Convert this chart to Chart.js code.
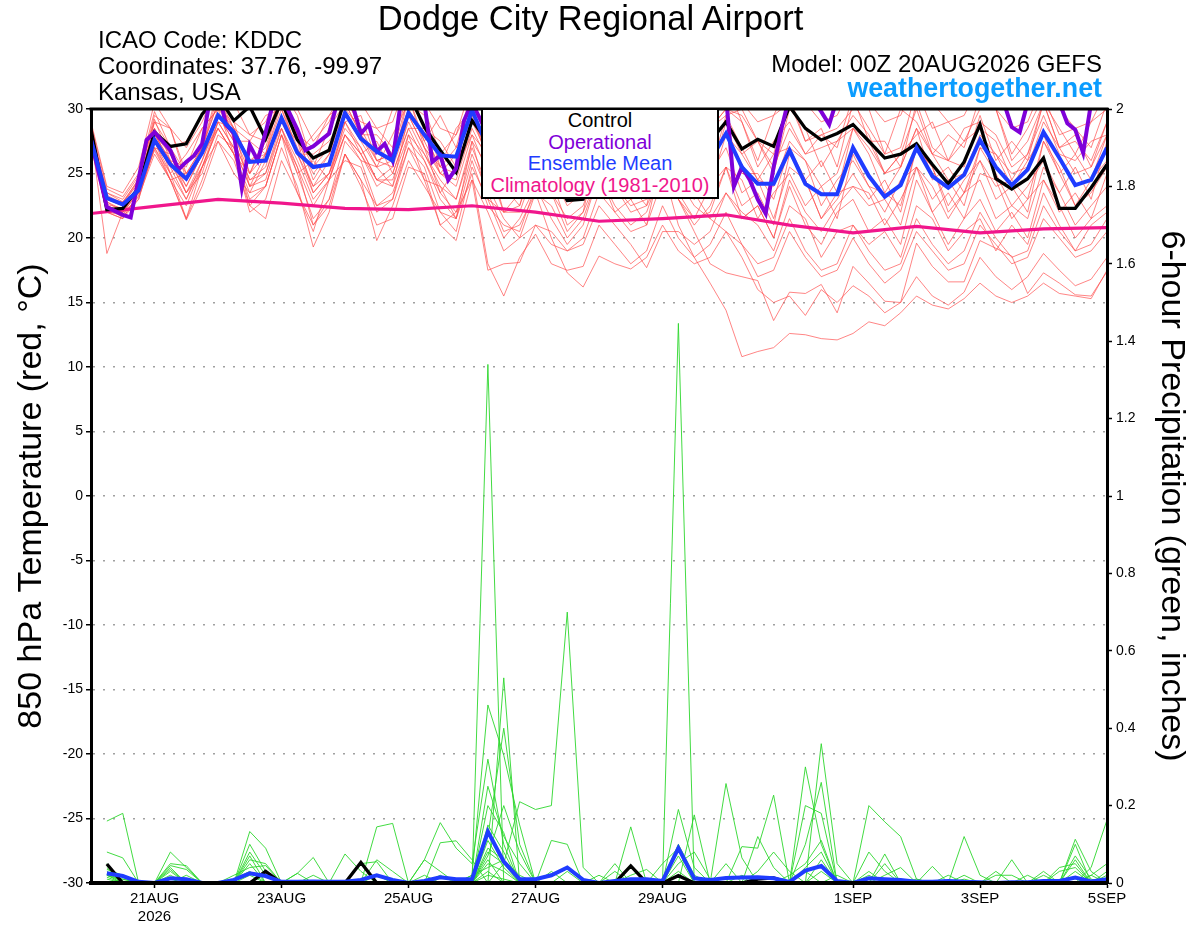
<!DOCTYPE html>
<html>
<head>
<meta charset="utf-8">
<title>Dodge City Regional Airport - GEFS</title>
<script src="https://cdn.jsdelivr.net/npm/chart.js@4.4.1/dist/chart.umd.min.js"></script>
<style>
  body { margin: 0; background: #fff; }
  #page { position: relative; width: 1200px; height: 927px; overflow: hidden; font-family: "Liberation Sans", Arial, sans-serif; }
  #chart { position: absolute; left: 0; top: 0; }
  .txt { position: absolute; white-space: nowrap; line-height: 1; color: #000; }
  #title { font-size: 34.5px; left: 0; width: 1181px; text-align: center; top: 1px; }
  #icao { font-size: 24px; left: 98px; top: 28px; }
  #coords { font-size: 24px; left: 98px; top: 54px; }
  #state { font-size: 24px; left: 98px; top: 80px; }
  #model { font-size: 24px; right: 98px; top: 52px; }
  #site { font-size: 26.8px; font-weight: bold; color: #0a9cff; right: 98px; top: 75px; }
  #legend { position: absolute; left: 481px; top: 108px; width: 238px; height: 91px; box-sizing: border-box;
            border: 2px solid #000; background: #fff; text-align: center; font-size: 20px; line-height: 21.7px; }
</style>
</head>
<body>
<div id="page">
  <canvas id="chart" width="1200" height="927"></canvas>
  <div class="txt" id="title">Dodge City Regional Airport</div>
  <div class="txt" id="icao">ICAO Code: KDDC</div>
  <div class="txt" id="coords">Coordinates: 37.76, -99.97</div>
  <div class="txt" id="state">Kansas, USA</div>
  <div class="txt" id="model">Model: 00Z 20AUG2026 GEFS</div>
  <div class="txt" id="site">weathertogether.net</div>
  <div id="legend">
    <div style="color:#000">Control</div>
    <div style="color:#7f00d9">Operational</div>
    <div style="color:#1f3cff">Ensemble Mean</div>
    <div style="color:#f0168c">Climatology (1981-2010)</div>
  </div>
</div>
<script>
// TIME AXIS (hours after 00Z 20AUG2026, one value every 6 h)
const stepHours = 6;
const tickHours = [24, 72, 120, 168, 216, 288, 336, 384];
const tickLabels = [["21AUG", "2026"], "23AUG", "25AUG", "27AUG", "29AUG", "1SEP", "3SEP", "5SEP"];

// 850 hPa TEMPERATURE, deg C
const controlTemp = [28.4,22.2,22.3,23.9,28.2, 27.1,27.3,29.6,31.0, 29.1,30.2,27.7,30.6, 27.6,26.2,26.8,30.8,
  30.8,30.4,30.1,31.2, 28.6,26.8,25.1,29.1, 27.5,25.0,24.5,27.5, 25.0,22.9,23.0,27.0, 25.5,24.8,26.0,29.5,
  27.0,26.0,27.5,29.0, 26.9,27.65,27.1,30.2, 28.5,27.6,28.1,28.8, 27.5,26.2,26.5,27.3, 25.7,24.2,25.9,28.8,
  24.6,23.8,24.6,26.2, 22.3,22.3,23.9,25.7];
const meanTemp = [27.6,23.1,22.6,23.7,27.6, 25.7,24.6,26.6,29.5, 28.2,25.9,26.0,29.3, 26.6,25.5,25.7,29.7,
  27.7,26.7,26.0,29.7, 28.0,26.4,26.3,29.9, 27.0,25.0,25.2,28.0, 26.0,24.8,25.0,27.8, 26.0,25.3,26.0,28.8,
  26.6,25.5,26.0,28.1, 25.5,24.2,24.2,26.8, 24.2,23.4,23.4,27.0, 24.8,23.2,24.1,27.0, 24.8,23.9,24.9,27.6,
  25.5,24.1,25.3,28.2, 26.2,24.1,24.5,27.0];
// operational run has 3-hourly output
const opHours = [0,6,12,15,21,24,30,33,36,39,42,45,48,51,54,57,60,63,66,69,72,78,81,84,90,93,96,99,102,105,108,111,114,117,120,
  126,129,132,135,138,141,144,150,156,162,168,174,180,186,192,198,204,210,216,222,228,234,240,243,246,249,252,255,258,261,264,
  270,276,279,282,288,300,312,324,336,342,345,348,351,354,360,366,369,372,375,378,384];
const opTemp = [27.6,22.4,21.8,21.6,27.6,28.2,26.8,25.3,25.9,26.4,27.3,30.8,31.5,28.8,28.1,23.9,27.2,26.0,28.2,30.6,31.0,28.4,26.8,27.1,28.1,30.5,31.5,30.2,28.1,28.8,26.7,27.3,26.0,30.4,31.5,
  30.5,25.9,26.4,24.5,25.4,29.1,30.5,28,26,29,31,27,25,28,31,27,26,29,31,28,27,30,31,24.0,25.5,24.5,23.0,21.9,25.5,28.5,31.0,
  31.5,29.8,28.8,30.8,31.5,32,31.5,32,31.5,31,30.5,28.6,28.2,30.5,31.5,30.5,28.9,28.4,26.6,30.5,31.5];
// climatology, one value per day
const climHours = [0,24,48,72,96,120,144,168,192,216,240,264,288,312,336,360,384];
const climTemp = [21.9,22.45,23.0,22.7,22.3,22.2,22.5,22.0,21.3,21.5,21.8,21.0,20.4,20.9,20.4,20.7,20.8];

// ensemble members
const m01 = [28.6,23.0,22.8,24.5,29.5, 28.5,25.0,27.0,31.5, 27.5,27.5,29.5,30.0, 26.5,28.0,29.5,31.5, 28.0,26.5,30.0,31.0, 27.5,29.5,27.0,31.5,
  29.0,26.0,28.5,29.5, 27.0,28.5,26.5,31.0, 30.5,26.5,28.5,30.0, 27.0,29.5,27.5,32.0, 29.0,26.0,29.5,30.5, 27.5,28.5,25.5,30.5,
  28.5,26.5,30.0,29.0, 26.5,28.0,27.0,31.0, 30.0,26.0,27.5,30.5, 28.5,26.5,29.0,30.0];
const m02 = [28.0,22.5,22.0,24.0,28.5, 25.0,26.5,28.5,30.0, 26.5,25.0,28.0,30.8, 28.0,24.5,26.5,29.0, 29.5,26.0,25.5,31.0, 27.0,25.5,28.5,30.0,
  26.0,27.5,25.0,29.5, 28.5,25.0,27.0,28.0, 26.0,28.0,26.5,30.5, 28.0,25.5,28.5,29.5, 30.0,27.5,25.5,28.5, 26.5,28.0,27.0,31.0,
  27.5,25.0,26.5,28.0, 29.0,26.0,25.5,29.5, 26.0,27.5,26.0,30.5, 27.0,28.0,25.5,29.0];
const m03 = [27.2,23.2,22.5,23.5,27.0, 26.5,23.5,25.0,29.0, 28.5,24.0,26.5,28.5, 25.0,26.0,24.5,29.0, 26.5,27.5,25.0,28.5, 28.5,25.0,26.5,29.5,
  26.0,24.5,27.0,27.5, 25.0,26.5,24.0,28.5, 27.0,24.0,26.5,28.0, 25.5,27.0,25.0,29.5, 27.0,24.5,26.5,27.0, 24.5,26.0,23.5,28.5,
  26.5,23.5,25.5,28.5, 24.5,25.5,23.5,27.0, 26.5,24.0,26.0,28.0, 25.0,26.5,24.5,28.0];
const m04 = [27.8,22.0,21.8,23.2,26.5, 24.5,21.5,25.5,27.5, 25.0,23.5,24.0,28.0, 23.5,20.5,24.5,26.0, 25.5,22.0,23.0,28.0, 24.5,24.0,21.5,27.5,
  23.0,22.0,23.5,25.0, 24.5,21.0,22.0,27.5, 24.5,24.0,22.5,28.0, 26.5,23.0,24.5,29.0, 25.0,25.0,23.0,27.0, 26.0,22.5,24.5,26.0,
  24.0,23.5,22.5,27.0, 25.5,22.0,23.5,26.0, 24.0,24.5,23.0,27.5, 25.5,22.5,24.5,26.0];
const m05 = [28.0,18.8,22.0,23.0,27.0, 25.0,21.5,24.5,28.0, 27.0,22.5,24.0,28.0, 25.5,21.0,23.0,26.5, 24.5,19.8,22.5,26.0, 24.0,22.0,20.5,25.5,
  23.0,20.0,21.5,24.0, 21.5,19.5,21.0,25.0, 22.5,21.0,22.0,25.5, 23.0,21.0,22.5,25.5, 21.5,22.5,20.0,24.0, 21.0,19.5,22.0,23.0,
  20.5,21.5,19.5,24.5, 22.0,19.5,21.5,23.0, 20.5,22.0,20.0,24.5, 22.5,20.0,21.5,22.5];
const m06 = [27.5,22.5,21.8,23.8,27.5, 25.5,23.0,26.0,29.0, 27.0,24.0,25.0,28.5, 25.5,22.5,24.5,28.0, 26.5,24.0,25.0,28.5, 26.0,23.0,21.5,25.0,
  18.0,15.5,18.5,20.3, 18.0,17.5,17.8,21.0, 19.5,18.0,19.0,22.5, 20.0,18.5,19.5,22.0, 19.5,18.0,18.5,21.5, 19.0,17.5,18.0,21.0,
  19.0,17.5,18.0,21.5, 19.5,18.0,19.0,22.0, 20.0,18.5,19.0,22.5, 20.5,19.0,19.5,21.5];
const m07 = [28.2,23.5,22.8,24.2,28.0, 26.0,23.5,25.5,28.5, 26.5,23.0,24.0,28.0, 25.0,21.5,23.0,27.5, 26.0,22.5,23.5,27.0, 24.5,21.0,22.0,26.5,
  23.5,20.5,21.0,23.5, 20.0,17.3,16.2,18.6, 18.0,17.6,18.5,21.0, 19.0,18.0,18.5,20.5, 19.5,17.0,17.5,20.5, 18.5,17.0,17.5,20.0,
  18.0,16.5,17.5,20.5, 19.0,17.5,18.0,21.0, 19.5,18.0,18.5,21.5, 20.0,18.5,19.0,20.5];
const m08 = [28.5,22.8,22.2,24.0,28.0, 26.5,24.5,27.0,30.5, 28.0,25.0,26.5,30.0, 27.0,24.0,26.0,29.5, 27.5,25.5,26.0,29.5, 27.0,25.0,24.5,28.5,
  26.0,23.5,24.0,27.5, 25.0,22.5,23.5,27.0, 25.5,23.0,23.5,25.5, 21.0,18.5,16.5,14.4, 10.8,11.2,11.5,12.6, 12.5,12.2,12.1,12.6,
  13.5,13.2,14.2,15.5, 14.8,14.5,15.3,16.5, 15.5,15.0,15.5,16.5, 15.7,15.5,15.3,17.5];
const m09 = [28.0,22.5,22.0,23.5,27.5, 25.0,23.0,25.5,29.0, 27.0,24.0,24.5,28.5, 26.0,23.0,24.5,28.0, 26.5,24.5,24.5,28.0, 26.5,24.5,23.0,27.5,
  25.5,22.0,22.0,25.5, 23.5,21.5,22.5,26.0, 24.0,22.0,22.5,25.0, 23.0,20.5,18.0,17.3, 17.0,16.7,13.6,15.8, 15.7,16.4,14.2,17.8,
  16.5,15.1,15.0,19.6, 17.8,16.6,16.6,19.8, 19.2,18.6,15.7,17.3, 16.5,15.6,15.5,17.4];
const m10 = [27.8,23.0,22.5,24.5,28.5, 26.5,24.0,26.5,30.0, 28.5,26.0,26.5,30.5, 27.5,25.0,26.5,30.0, 28.5,26.0,26.5,30.0, 28.0,25.5,25.0,29.0,
  26.5,23.5,24.0,27.5, 25.5,23.0,23.5,27.5, 26.0,24.0,24.5,27.5, 25.5,23.5,21.5,20.5, 18.5,16.0,15.0,15.5, 14.0,16.0,15.0,16.3,
  15.5,14.2,15.0,17.0, 15.5,14.8,15.8,18.5, 17.0,16.0,17.0,18.8, 17.5,16.3,16.8,18.5];
const m11 = [28.3,23.5,23.0,24.8,29.0, 27.0,25.0,27.0,30.5, 28.5,26.0,27.0,31.0, 28.0,25.5,27.0,30.5, 28.0,26.0,26.5,30.0, 27.5,25.0,24.0,28.0,
  26.5,22.0,22.5,26.0, 25.0,23.0,23.5,27.0, 25.0,23.0,23.5,26.5, 24.5,22.5,21.5,23.5, 22.0,21.0,19.0,22.5, 21.5,18.5,20.5,21.0,
  19.5,20.5,18.5,22.5, 21.5,19.0,20.5,21.5, 19.0,21.0,19.5,23.5, 21.0,19.0,21.0,22.0];
const m12 = [27.5,22.0,21.5,23.0,27.5, 24.5,25.0,26.5,28.5, 26.5,23.5,26.0,29.0, 27.5,23.5,25.0,28.0, 26.0,25.5,24.0,29.5, 27.0,23.5,25.5,28.0,
  25.0,24.0,22.5,27.0, 26.5,24.0,26.0,27.0, 24.5,25.5,24.0,28.5, 26.5,23.0,25.0,27.0, 23.5,24.5,21.5,25.5, 24.5,21.5,23.5,24.0,
  22.5,23.0,21.0,25.5, 24.0,21.5,23.5,24.5, 21.5,22.5,21.5,25.5, 23.5,21.0,22.5,24.0];
const m13 = [28.8,23.8,23.2,25.0,29.8, 27.0,27.5,29.5,31.0, 29.0,28.0,27.5,31.5, 28.0,27.0,29.5,30.5, 29.0,28.5,27.0,31.5, 30.0,26.5,28.0,30.5,
  28.0,26.5,27.5,30.0, 28.5,25.5,27.5,29.5, 29.0,27.5,26.0,30.5, 27.5,28.0,28.5,30.0, 29.0,25.5,27.5,29.0, 26.5,27.0,27.5,29.5,
  28.0,25.0,26.5,30.0, 26.5,26.0,27.5,28.5, 27.5,24.5,26.5,29.5, 26.5,26.0,27.5,28.0];
const m14 = [27.0,22.0,21.5,23.5,26.8, 24.5,22.5,25.5,28.5, 26.5,22.0,23.0,27.0, 24.0,19.3,22.0,26.5, 24.0,21.0,21.5,25.5, 25.0,21.0,19.8,24.5,
  22.0,19.0,20.0,23.5, 22.5,20.0,21.5,25.0, 24.0,22.5,23.0,27.0, 25.5,23.5,24.0,28.0, 26.5,24.5,24.0,27.5, 26.0,24.0,25.0,28.5,
  27.0,25.0,25.5,28.5, 26.5,24.5,25.0,28.0, 26.5,25.0,25.5,29.0, 27.0,25.0,25.5,28.0];
const m15 = [28.0,23.0,22.5,24.0,29.0, 28.5,24.5,27.0,31.0, 28.5,27.5,26.5,31.5, 29.5,25.5,28.5,30.5, 28.0,28.0,26.5,31.0, 28.5,27.5,25.5,30.5,
  30.0,26.0,26.5,31.0, 27.5,28.0,28.5,30.5, 28.5,27.0,29.5,31.5, 28.5,26.5,28.5,30.0, 29.5,27.5,26.5,31.0, 27.5,28.0,28.5,30.0,
  30.0,26.5,27.0,31.5, 28.5,29.0,27.5,30.0, 30.0,26.5,28.5,31.0, 28.0,28.5,27.0,30.5];
const m16 = [27.4,22.3,21.6,23.3,27.0, 24.5,21.4,24.0,27.5, 26.0,22.5,21.5,26.0, 23.5,21.0,22.5,26.5, 24.5,22.5,23.0,27.0, 25.5,22.0,21.5,26.0,
  22.5,21.0,20.5,24.0, 23.5,20.5,22.0,25.0, 22.0,23.0,21.0,26.5, 23.5,21.5,24.0,25.5, 22.5,23.5,21.0,26.5, 24.5,21.5,23.0,25.0,
  23.0,24.5,22.0,27.0, 25.5,22.5,24.5,26.0, 23.0,24.0,22.0,27.5, 25.0,22.5,23.5,25.5];
const m17 = [28.0,22.8,22.0,23.8,27.8, 25.8,23.5,26.0,29.5, 27.5,24.5,25.0,29.0, 26.5,24.0,25.0,28.5, 27.0,24.5,24.0,27.5, 26.0,23.5,22.0,24.5,
  17.5,18.0,18.1,21.0, 19.5,19.0,19.5,22.5, 21.0,19.5,17.7,20.5, 20.5,19.5,20.5,23.5, 21.5,22.5,20.0,24.5, 22.0,20.5,22.5,24.0,
  23.5,21.0,23.0,25.5, 22.0,23.5,21.5,25.0, 24.5,21.5,23.0,24.5, 22.0,23.5,21.5,25.0];
const m18 = [29.0,24.0,23.5,25.5,30.5, 28.5,27.0,29.0,32.0, 30.5,28.0,29.0,32.0, 30.0,27.5,29.0,32.0, 30.5,28.5,29.0,32.5, 30.5,28.5,28.0,32.0,
  30.0,28.0,28.5,32.0, 30.0,28.5,29.0,32.5, 30.5,29.0,29.5,32.5, 31.0,29.5,29.5,32.5, 30.5,29.0,29.5,32.0, 30.5,29.0,29.5,32.0,
  30.5,29.0,29.5,32.5, 30.5,29.0,29.5,32.0, 30.0,28.5,29.0,32.0, 30.0,28.5,29.0,31.5];
const m19 = [27.6,22.6,22.3,24.0,28.0, 26.0,24.0,26.5,29.5, 27.5,24.5,25.5,29.5, 26.5,23.5,25.0,29.0, 27.0,24.5,25.5,29.0, 26.5,24.0,23.0,27.0,
  24.0,21.5,20.0,21.0, 20.5,19.0,20.0,23.5, 22.0,20.5,21.0,24.5, 23.0,21.5,22.0,25.5, 24.5,21.5,23.5,25.0, 22.5,24.0,21.5,26.5,
  24.0,22.0,24.5,25.5, 23.0,24.5,22.5,27.0, 25.0,22.5,24.0,26.0, 23.5,25.5,23.0,27.5];
const m20 = [28.6,23.3,22.7,24.6,29.2, 26.0,25.5,28.5,30.0, 29.0,25.0,27.5,30.5, 26.5,26.5,27.5,29.5, 28.0,25.5,28.0,30.5, 29.5,25.5,27.0,29.0,
  27.0,25.5,24.5,29.5, 28.0,24.5,26.5,29.0, 26.5,27.0,25.5,30.5, 28.5,25.0,27.5,29.0, 26.5,27.5,25.0,30.0, 28.5,25.5,27.5,28.5,
  27.5,27.5,25.5,30.5, 27.0,26.0,28.5,29.0, 28.0,25.5,26.5,30.5, 27.0,27.5,26.0,29.0];
const tempMembers = [m01,m02,m03,m04,m05,m06,m07,m08,m09,m10,m11,m12,m13,m14,m15,m16,m17,m18,m19,m20];

// 6-HOUR PRECIPITATION, inches (no value at hour 0)
const controlPrecip = [null,.049,0,0,0,0,0,0, 0,0,0,.03,0,0,0,0, 0,.053,0,0,0,0,0,0, 0,0,0,0,0,0,0,0,
  0,0,.044,0,0,.019,0,0, 0,0,.01,.013,0,0,0,0, 0,0,0,0,0,0,0,0, 0,0,0,0,0,0,0,0, 0];
const meanPrecip = [null,.025,.018,.003,0,.012,.01,0, 0,.008,.025,.018,.003,.003,.004,.003, .003,.008,.02,.008,0,.005,.015,.01,
  .01,.133,.055,.01,.01,.02,.04,.008, 0,.005,.01,.01,.005,.09,.012,.008, .013,.014,.015,.012,.003,.032,.044,.005,
  0,.012,.01,.008,.003,.003,.005,.003, .002,0,.002,.002,.005,.005,.014,.004, .01];
const p01 = [null,.03,0,0,0,.04,0,0, 0,0,.05,0,0,0,0,0, 0,0,0,0,0,0,0,0, 0,1.34,0,0,0,0,0,0,
  0,0,0,0,0,0,0,0, 0,0,0,0,0,0,.36,.05, 0,.02,0,0,0,0,0,0, 0,0,0,0,0,0,0,0, 0];
const p02 = [null,.02,.01,0,0,0,0,0, 0,0,0,0,0,0,0,0, 0,0,.145,.154,0,0,0,0, 0,0,0,0,0,0,0,0,
  0,0,0,0,0,1.446,0,0, 0,0,0,0,0,0,0,0, 0,0,0,0,0,0,0,.12, .02,0,0,0,0,0,0,0, 0];
const p03 = [null,.16,.18,0,0,0,0,0, 0,0,0,0,0,0,0,0, 0,0,0,0,0,0,0,0, 0,0,.05,.21,.19,.2,.70,.04,
  0,0,0,0,0,0,0,0, 0,0,0,0,0,0,0,0, 0,0,0,0,0,0,0,0, 0,0,0,0,0,0,.113,.03, 0];
const p04 = [null,0,0,0,0,0,0,0, 0,0,.133,.09,0,0,0,0, 0,0,0,0,0,0,0,0, 0,0,.53,0,0,0,0,0,
  0,0,0,0,0,0,0,0, .257,.065,0,0,0,0,0,0, 0,0,0,0,0,0,0,0, 0,0,0,0,0,0,0,.04, .163];
const p05 = [null,.08,.065,0,0,0,0,0, 0,0,0,0,0,0,0,0, 0,0,0,0,0,0,0,0, .02,.46,.33,.15,0,0,0,0,
  0,0,0,0,0,0,0,0, 0,0,0,0,0,0,0,0, 0,.2,.158,.12,.01,0,0,0, 0,0,0,0,0,0,0,0, 0];
const p06 = [null,0,0,0,0,0,0,0, 0,0,0,0,0,0,0,0, 0,0,0,0,0,.06,.156,.09, .05,.32,.1,0,0,0,0,0,
  0,0,0,0,0,0,0,0, 0,.094,.09,.227,0,0,0,0, 0,0,0,0,0,0,0,0, 0,0,.06,0,0,0,0,0, 0];
const p07 = [null,0,0,0,0,.08,.04,0, 0,0,0,0,0,0,0,0, 0,0,0,0,0,0,0,0, 0,.25,.12,.05,0,0,0,0,
  0,0,.145,0,0,0,0,0, 0,0,0,0,0,.3,.1,0, 0,0,0,0,0,0,0,0, 0,0,0,0,0,0,0,0, 0];
const p08 = [null,0,0,0,0,0,0,0, 0,0,0,0,0,0,0,0, 0,0,0,0,0,0,.104,.109, .06,0,0,0,0,0,0,0,
  0,0,0,0,0,.19,.04,0, 0,0,0,0,0,.1,.26,0, 0,0,0,0,0,0,0,0, 0,0,0,0,0,0,.06,0, 0];
const p09 = [null,0,0,0,0,0,0,0, 0,0,0,0,0,.025,.066,0, .075,.03,0,0,0,0,0,0, 0,.15,.08,0,0,0,0,0,
  0,0,0,0,0,0,.176,0, 0,0,0,0,0,0,0,0, 0,0,.075,0,0,.043,0,0, 0,0,0,0,0,0,0,0, 0];
const p10 = [null,.04,0,0,0,.045,.035,0, 0,0,.06,.05,0,0,0,0, 0,0,0,0,0,0,0,0, 0,.09,.06,0,0,.11,.1,0,
  0,0,0,0,0,0,0,0, 0,0,0,0,0,0,0,0, 0,0,0,0,0,0,0,0, 0,.03,0,0,0,0,0,.02, .05];
const p11 = [null,.01,0,0,0,.03,0,0, 0,.02,.04,.045,0,0,0,0, 0,0,0,0,0,0,0,0, 0,.07,.2,.08,0,0,0,0,
  0,.05,0,0,0,0,0,0, 0,0,0,0,0,.2,.18,0, 0,0,0,0,0,0,0,0, 0,0,0,0,.03,0,0,0, 0];
const p12 = [null,0,0,0,0,.05,.045,0, 0,0,0,0,0,.025,0,0, 0,0,.02,0,0,0,0,0, 0,.05,.03,0,0,0,0,0,
  0,0,.02,.035,0,0,0,0, 0,.02,0,0,0,0,0,0, 0,.03,0,0,0,0,0,0, 0,0,0,0,0,.04,.05,0, 0];
const p13 = [null,.02,0,0,0,0,0,0, 0,0,.08,.02,0,0,0,0, 0,0,.06,.03,0,0,0,0, 0,.03,0,0,0,0,0,0,
  0,0,0,0,.01,.1,.02,0, 0,0,0,0,.02,.05,.11,0, 0,0,0,0,0,0,0,0, 0,0,0,0,0,0,0,0, .02];
const p14 = [null,.035,.02,0,0,.02,0,0, 0,0,.07,0,0,0,0,0, 0,0,0,0,0,0,0,0, 0,.02,.01,0,0,0,0,0,
  0,0,0,0,0,0,0,0, 0,0,.03,.08,.03,0,0,0, 0,0,0,0,0,0,0,.02, 0,0,0,0,0,0,.1,0, 0];
const p15 = [null,0,0,0,0,0,0,0, 0,0,0,0,0,0,0,0, 0,.05,.055,0,0,.06,.03,0, 0,.11,.04,0,0,0,.03,0,
  0,0,0,0,0,.05,.08,.01, 0,0,0,0,0,0,.06,0, 0,0,.02,.04,0,0,0,0, 0,0,0,0,0,0,0,.02, 0];
const p16 = [null,.05,0,0,0,0,0,0, 0,.01,.03,0,0,0,0,0, 0,0,0,0,0,0,0,0, .02,.04,.06,.02,0,0,0,0,
  0,.03,0,0,0,0,0,0, .05,0,0,0,0,0,0,.02, 0,0,0,0,0,0,0,0, 0,.02,.02,0,0,0,.07,.01, 0];
const p17 = [null,0,0,0,0,.01,0,0, 0,0,.02,0,0,0,0,0, 0,0,0,0,0,0,0,0, 0,.2,.13,0,0,0,0,0,
  0,0,0,0,.05,.09,0,0, 0,0,0,0,0,0,0,0, 0,.08,.03,0,0,0,.02,0, 0,0,0,0,0,.03,.04,0, 0];
const p18 = [null,0,.01,0,0,0,.02,0, 0,0,0,0,0,0,.02,0, 0,0,0,0,0,0,.02,0, 0,.06,0,0,0,.03,0,0,
  0,0,.04,0,0,0,0,0, 0,0,.12,.04,0,.03,0,0, 0,0,0,0,0,0,0,0, 0,0,0,.02,0,0,0,0, .03];
const p19 = [null,.015,0,0,0,.035,0,0, 0,0,.1,.03,0,0,0,0, 0,0,0,0,0,0,0,0, 0,.12,.4,.1,0,0,0,0,
  0,0,0,0,0,.07,0,0, 0,0,0,0,0,0,.03,0, 0,0,.05,0,0,0,0,.01, 0,0,0,0,0,0,0,0, 0];
const p20 = [null,.02,.005,0,0,0,0,0, 0,0,0,0,0,0,0,0, 0,0,0,0,0,.02,0,0, 0,.08,.05,0,0,0,0,0,
  .02,0,0,0,0,.03,0,0, 0,0,0,0,0,.04,.08,0, 0,0,0,0,.01,0,0,0, 0,0,0,0,.02,0,.03,0, 0];
const precipMembers = [p01,p02,p03,p04,p05,p06,p07,p08,p09,p10,p11,p12,p13,p14,p15,p16,p17,p18,p19,p20];

// COLOURS
const RED = "rgba(255, 75, 75, 0.68)";
const GREEN = "rgba(45, 215, 45, 0.9)";
const PURPLE = "#7f00d9";
const BLUE = "#1f3cff";
const PINK = "#f0168c";
const FONT = "'Liberation Sans', Arial, sans-serif";

function series(values) {
  return values.map((v, i) => ({ x: i * stepHours, y: v }));
}
function pairs(hours, values) {
  return hours.map((h, i) => ({ x: h, y: values[i] }));
}

// BUILD DATASETS (lower order is drawn on top)
const datasets = [];
tempMembers.forEach((m) => {
  datasets.push({ data: series(m), yAxisID: "y", borderColor: RED, borderWidth: 1, order: 10 });
});
precipMembers.forEach((m) => {
  datasets.push({ data: series(m), yAxisID: "y1", borderColor: GREEN, borderWidth: 1, order: 9 });
});
datasets.push({ label: "Climatology (1981-2010)", data: pairs(climHours, climTemp), yAxisID: "y", borderColor: PINK, borderWidth: 3.2, order: 5 });
datasets.push({ label: "Control", data: series(controlTemp), yAxisID: "y", borderColor: "#000", borderWidth: 3.3, order: 4 });
datasets.push({ label: "Control precip", data: series(controlPrecip), yAxisID: "y1", borderColor: "#000", borderWidth: 3.3, order: 4 });
datasets.push({ label: "Operational", data: pairs(opHours, opTemp), yAxisID: "y", borderColor: PURPLE, borderWidth: 4, order: 3 });
datasets.push({ label: "Ensemble Mean", data: series(meanTemp), yAxisID: "y", borderColor: BLUE, borderWidth: 4, order: 2 });
datasets.push({ label: "Ensemble Mean precip", data: series(meanPrecip), yAxisID: "y1", borderColor: BLUE, borderWidth: 4, order: 2 });

// top edge of the frame
const framePlugin = {
  id: "frame",
  afterDraw(chart) {
    const { ctx, chartArea: a } = chart;
    ctx.save();
    ctx.strokeStyle = "#000";
    ctx.lineWidth = 3;
    ctx.beginPath();
    ctx.moveTo(a.left - 1.5, a.top);
    ctx.lineTo(a.right + 1.5, a.top);
    ctx.stroke();
    ctx.restore();
  },
};

const ctx = document.getElementById("chart").getContext("2d");
new Chart(ctx, {
  type: "line",
  data: { datasets: datasets },
  plugins: [framePlugin],
  options: {
    responsive: false,
    animation: false,
    devicePixelRatio: 1,
    layout: { padding: { top: 109, left: 0, right: 0, bottom: 0 } },
    elements: { point: { radius: 0 }, line: { tension: 0, fill: false } },
    plugins: { legend: { display: false }, tooltip: { enabled: false } },
    scales: {
      x: {
        type: "linear",
        min: 0,
        max: 384,
        afterBuildTicks: (scale) => { scale.ticks = tickHours.map((v) => ({ value: v })); },
        afterFit: (scale) => { scale.height = 44; },
        ticks: {
          autoSkip: false,
          maxRotation: 0,
          padding: 2,
          color: "#000",
          font: { family: FONT, size: 15 },
          callback: (v) => { const k = tickHours.indexOf(v); return k < 0 ? "" : tickLabels[k]; },
        },
        grid: { drawOnChartArea: false, tickLength: 5, tickColor: "#000", tickWidth: 1.5 },
        border: { color: "#000", width: 4, z: 1 },
      },
      y: {
        position: "left",
        min: -30,
        max: 30,
        afterFit: (scale) => { scale.width = 91; },
        ticks: { stepSize: 5, padding: 3, color: "#000", font: { family: FONT, size: 14 } },
        grid: { color: "#a0a0a0", lineWidth: 1.5, tickLength: 5, tickColor: "#000", tickWidth: 1.5 },
        border: { color: "#000", width: 3, dash: [2, 8], z: 1 },
        title: { display: true, text: "850 hPa Temperature (red, °C)", color: "#000", font: { family: FONT, size: 34 }, padding: { top: 11, bottom: 0 } },
      },
      y1: {
        position: "right",
        min: 0,
        max: 2,
        afterFit: (scale) => { scale.width = 93; },
        ticks: { stepSize: 0.2, padding: 4, color: "#000", font: { family: FONT, size: 14 }, callback: (v) => String(+v.toFixed(1)) },
        grid: { drawOnChartArea: false, tickLength: 5, tickColor: "#000", tickWidth: 1.5 },
        border: { color: "#000", width: 3, z: 1 },
        title: { display: true, text: "6-hour Precipitation (green, inches)", color: "#000", font: { family: FONT, size: 34 }, padding: { top: 8, bottom: 0 } },
      },
    },
  },
});
</script>
</body>
</html>
